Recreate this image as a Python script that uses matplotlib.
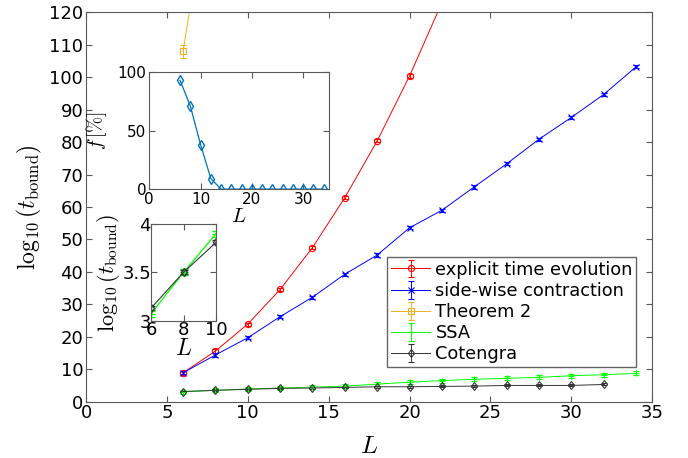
import numpy as np
import matplotlib.pyplot as plt

plt.rcParams['mathtext.fontset'] = 'cm'
plt.rcParams['font.family'] = 'DejaVu Sans'

# main panel data
L_exp = [6, 8, 10, 12, 14, 16, 18, 20, 22]
t_exp = [8.9, 15.6, 23.9, 34.6, 47.5, 62.9, 80.4, 100.4, 123.0]
e_exp = [0.6, 0.6, 0.5, 0.5, 0.5, 0.5, 0.5, 0.5, 0.5]

L_side = [6, 8, 10, 12, 14, 16, 18, 20, 22, 24, 26, 28, 30, 32, 34]
t_side = [8.9, 14.4, 19.7, 26.2, 32.2, 39.3, 45.2, 53.6, 59.0, 66.2, 73.3, 80.9, 87.6, 94.7, 103.2]
e_side = [0.5] * 15

L_thm = [6, 8]
t_thm = [108.0, 170.0]
e_thm = [2.0, 2.0]

L_ssa = [6, 8, 10, 12, 14, 16, 18, 20, 22, 24, 26, 28, 30, 32, 34]
t_ssa = [3.07, 3.5, 3.9, 4.2, 4.5, 4.8, 5.4, 6.0, 6.5, 6.9, 7.2, 7.5, 8.0, 8.3, 8.7]
e_ssa = [0.6] * 15

L_cot = [6, 8, 10, 12, 14, 16, 18, 20, 22, 24, 26, 28, 30, 32]
t_cot = [3.13, 3.5, 3.81, 4.1, 4.2, 4.4, 4.6, 4.6, 4.7, 4.8, 5.0, 5.0, 5.0, 5.3]
e_cot = [0.3] * 14

# inset: fraction f
L_f = [6, 8, 10, 12, 14, 16, 18, 20, 22, 24, 26, 28, 30, 32, 34]
f_pct = [93, 71, 38, 9, 0, 0, 0, 0, 0, 0, 0, 0, 0, 0, 0]

ylab = r'$\log_{10}(t_{\mathrm{bound}})$'
edge = '0.35'


def style(ax, fs=11):
    ax.tick_params(direction='in', top=True, right=True, labelsize=fs,
                   color=edge, length=4, pad=2)
    for s in ax.spines.values():
        s.set_color(edge)
        s.set_linewidth(0.8)


fig = plt.figure(figsize=(6.88, 4.58), dpi=100)
ax = fig.add_axes([0.125, 0.123, 0.823, 0.850])

kw = dict(lw=0.7, capsize=2.5, elinewidth=0.7, markersize=4.5, mew=0.8)
ax.errorbar(L_exp, t_exp, yerr=e_exp, color='#ff0000', marker='o', mfc='none', label='explicit time evolution', **kw)
ax.errorbar(L_side, t_side, yerr=e_side, color='#0000ff', marker='x', label='side-wise contraction', **kw)
ax.errorbar(L_thm, t_thm, yerr=e_thm, color='#edb120', marker='s', mfc='none', label='Theorem 2', **kw)
ax.errorbar(L_ssa, t_ssa, yerr=e_ssa, color='#00ff00', marker='+', label='SSA', **kw)
ax.errorbar(L_cot, t_cot, yerr=e_cot, color='#333333', marker='d', mfc='none', label='Cotengra', **kw)

ax.set_xlim(0, 35)
ax.set_ylim(0, 120)
ax.set_xticks(np.arange(0, 36, 5))
ax.set_yticks(np.arange(0, 121, 10))
style(ax, 13)
ax.set_xlabel(r'$L$', fontsize=18, labelpad=8)
ax.set_ylabel(ylab, fontsize=17, labelpad=4)
ax.legend(loc='lower right', bbox_to_anchor=(0.972, 0.089), fontsize=12.8,
          frameon=True, fancybox=False, edgecolor='0.4', handlelength=2.2,
          borderpad=0.2, labelspacing=0.18, handletextpad=0.3, borderaxespad=0,
          framealpha=1)

# inset 1
ax1 = fig.add_axes([0.217, 0.587, 0.261, 0.2555])
ax1.plot(L_f, f_pct, color='#0072bd', marker='d', mfc='none', lw=0.9, markersize=5)
ax1.set_xlim(0, 35)
ax1.set_ylim(0, 100)
ax1.set_xticks([0, 10, 20, 30])
ax1.set_yticks([0, 50, 100])
style(ax1, 11)
ax1.set_xlabel(r'$L$', fontsize=15, labelpad=-1)
ax1.set_ylabel(r'$f\,[\%]$', fontsize=14, labelpad=6)

# inset 2
ax2 = fig.add_axes([0.2195, 0.2998, 0.0945, 0.211])
ax2.errorbar(L_ssa[:3], t_ssa[:3], yerr=[0.03] * 3, color='#00ff00', marker='+', lw=0.9, capsize=3, elinewidth=0.8)
ax2.errorbar(L_cot[:3], t_cot[:3], yerr=[0.02] * 3, color='#333333', marker='d', mfc='none', lw=0.8, capsize=3, elinewidth=0.8, markersize=4.5)
ax2.set_xlim(6, 10)
ax2.set_ylim(3, 4)
ax2.set_xticks([6, 8, 10])
ax2.set_yticks([3, 3.5, 4])
ax2.set_yticklabels(['3', '3.5', '4'])
style(ax2, 13)
ax2.tick_params(pad=0)
ax2.set_xlabel(r'$L$', fontsize=17, labelpad=-2)
ax2.set_ylabel(ylab, fontsize=16, labelpad=0)

fig.savefig('out.png', dpi=100)
